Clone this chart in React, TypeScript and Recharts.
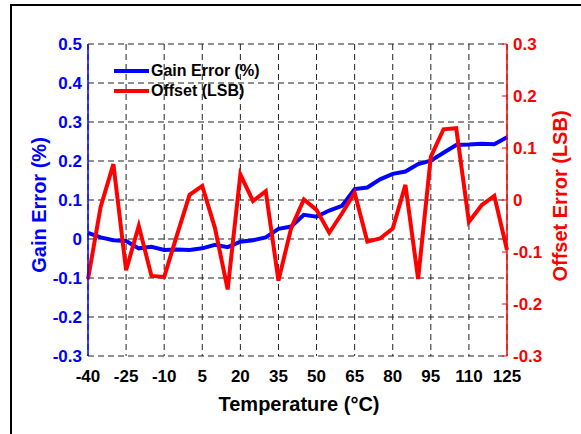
import { CartesianGrid, Legend, Line, LineChart, XAxis, YAxis } from "recharts"

// temperature in °C, one reading every 5 degrees
const temperature = [
  -40, -35, -30, -25, -20, -15, -10, -5, 0, 5, 10, 15, 20, 25, 30, 35, 40, 45,
  50, 55, 60, 65, 70, 75, 80, 85, 90, 95, 100, 105, 110, 115, 120, 125,
]

const gainError = [
  0.016, 0.004, -0.003, -0.005, -0.024, -0.02, -0.028, -0.027, -0.028, -0.024,
  -0.015, -0.021, -0.007, -0.003, 0.004, 0.026, 0.032, 0.062, 0.057, 0.073,
  0.085, 0.128, 0.132, 0.153, 0.167, 0.173, 0.192, 0.201, 0.221, 0.241, 0.242,
  0.244, 0.243, 0.261,
]

const offsetLsb = [
  -0.152, -0.013, 0.069, -0.135, -0.05, -0.146, -0.148, -0.068, 0.01, 0.027,
  -0.054, -0.172, 0.049, -0.002, 0.017, -0.155, -0.054, 0.001, -0.019, -0.063,
  -0.026, 0.014, -0.08, -0.074, -0.055, 0.029, -0.152, 0.083, 0.136, 0.138,
  -0.042, -0.01, 0.008, -0.096,
]

const tempTicks = [-40, -25, -10, 5, 20, 35, 50, 65, 80, 95, 110, 125]
const gainTicks = [-0.3, -0.2, -0.1, 0, 0.1, 0.2, 0.3, 0.4, 0.5]
const offsetTicks = [-0.3, -0.2, -0.1, 0, 0.1, 0.2, 0.3]

const data = temperature.map((t, i) => ({
  t,
  gain: gainError[i],
  offset: offsetLsb[i],
}))

const FONT = '"Liberation Sans", Arial, sans-serif'
const BLUE = "#0000ff"
const RED = "#ff0000"

// recharts hands its own angle/position props to label elements, so use other names
function AxisTitle(props: any) {
  const { px, py, rot, color, title } = props
  return (
    <text
      x={px}
      y={py}
      transform={rot ? `rotate(${rot}, ${px}, ${py})` : undefined}
      textAnchor="middle"
      dominantBaseline="central"
      fill={color}
      fontFamily={FONT}
      fontWeight={700}
      fontSize={20}
    >
      {title}
    </text>
  )
}

function LegendBox(props: any) {
  const items = props.payload || []
  return (
    <div style={{ fontFamily: FONT, fontWeight: 700, fontSize: 16 }}>
      {items.map((item: any) => (
        <div
          key={item.value}
          style={{ display: "flex", alignItems: "center", height: 20 }}
        >
          <svg width={37} height={20}>
            <line x1={0} y1={10} x2={35} y2={10} stroke={item.color} strokeWidth={4} />
          </svg>
          <span style={{ color: "#000" }}>{item.value}</span>
        </div>
      ))}
    </div>
  )
}

export default function App() {
  return (
    <div
      style={{
        position: "absolute",
        left: 0,
        top: 0,
        width: 581,
        height: 434,
        background: "#fff",
        overflow: "hidden",
      }}
    >
      <div
        style={{
          position: "absolute",
          left: 10,
          top: 4,
          width: 700,
          height: 600,
          borderTop: "2px solid #000",
          borderLeft: "2.5px solid #000",
        }}
      />
      <LineChart
        width={581}
        height={434}
        data={data}
        margin={{ top: 44, right: 14, bottom: 48, left: 28 }}
        style={{ position: "absolute", left: 0, top: 0 }}
      >
        <CartesianGrid
          yAxisId="left"
          stroke="#222"
          strokeDasharray="6 4"
          strokeWidth={1}
        />
        <XAxis
          dataKey="t"
          type="number"
          domain={[-40, 125]}
          ticks={tempTicks}
          height={30}
          axisLine={false}
          tickLine={false}
          tickSize={0}
          tickMargin={14}
          tick={{ fill: "#000", fontSize: 17, fontWeight: 700, fontFamily: FONT }}
          label={<AxisTitle px={299} py={404} color="#000" title="Temperature (°C)" />}
        />
        <YAxis
          yAxisId="left"
          orientation="left"
          domain={[-0.3, 0.5]}
          ticks={gainTicks}
          width={60}
          axisLine={{ stroke: BLUE, strokeWidth: 1.5 }}
          tickLine={false}
          tickSize={0}
          tickMargin={6}
          tick={{ fill: BLUE, fontSize: 17, fontWeight: 700, fontFamily: FONT }}
          tickFormatter={(v: number) => String(v)}
          label={<AxisTitle px={39} py={205} rot={-90} color={BLUE} title="Gain Error (%)" />}
        />
        <YAxis
          yAxisId="right"
          orientation="right"
          domain={[-0.3, 0.3]}
          ticks={offsetTicks}
          width={60}
          axisLine={{ stroke: RED, strokeWidth: 1.5 }}
          tickLine={{ stroke: RED, strokeWidth: 1 }}
          tickSize={-5}
          tickMargin={11}
          tick={{ fill: RED, fontSize: 17, fontWeight: 700, fontFamily: FONT }}
          tickFormatter={(v: number) => String(v)}
          label={<AxisTitle px={560} py={196} rot={-90} color={RED} title="Offset Error (LSB)" />}
        />
        <Legend
          layout="vertical"
          align="center"
          verticalAlign="middle"
          wrapperStyle={{ left: 114, top: 61, width: 180 }}
          content={<LegendBox />}
        />
        <Line
          yAxisId="left"
          type="linear"
          dataKey="gain"
          name="Gain Error (%)"
          stroke={BLUE}
          strokeWidth={4}
          dot={false}
          isAnimationActive={false}
        />
        <Line
          yAxisId="right"
          type="linear"
          dataKey="offset"
          name="Offset (LSB)"
          stroke={RED}
          strokeWidth={4}
          dot={false}
          isAnimationActive={false}
        />
      </LineChart>
    </div>
  )
}
